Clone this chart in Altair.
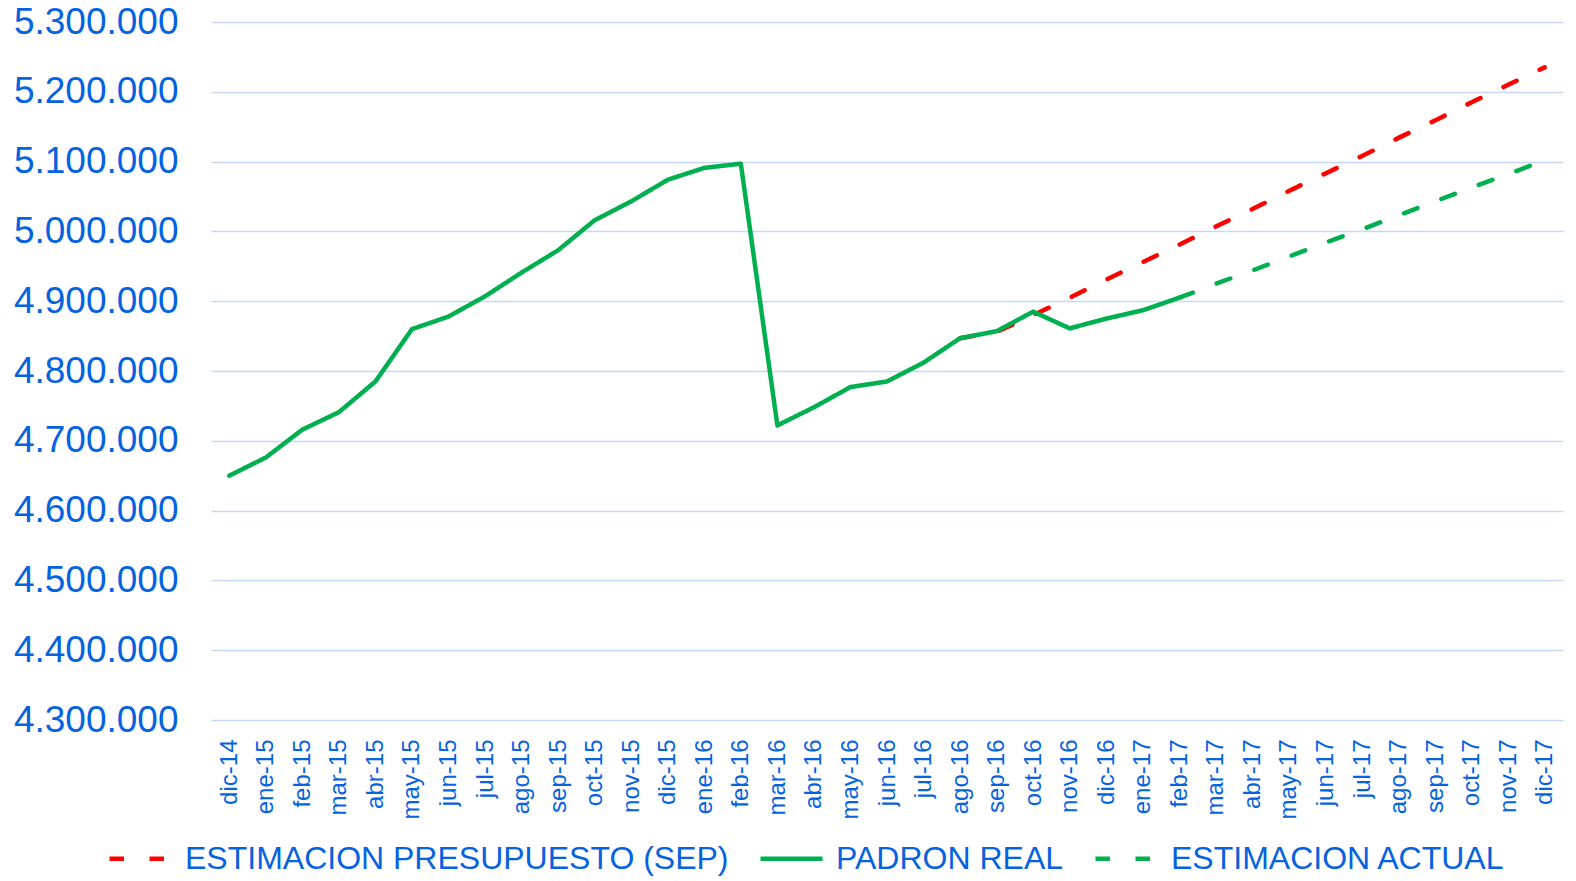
import altair as alt
import pandas as pd

months = ["dic-14", "ene-15", "feb-15", "mar-15", "abr-15", "may-15", "jun-15",
          "jul-15", "ago-15", "sep-15", "oct-15", "nov-15", "dic-15", "ene-16",
          "feb-16", "mar-16", "abr-16", "may-16", "jun-16", "jul-16", "ago-16",
          "sep-16", "oct-16", "nov-16", "dic-16", "ene-17", "feb-17", "mar-17",
          "abr-17", "may-17", "jun-17", "jul-17", "ago-17", "sep-17", "oct-17",
          "nov-17", "dic-17"]

# PADRON REAL: dic-14 .. feb-17
real_values = [4650000, 4676000, 4716000, 4741000, 4785000, 4860000, 4878000,
               4907000, 4941000, 4973000, 5016000, 5043000, 5074000, 5091000,
               5097000, 4722000, 4748000, 4777000, 4785000, 4812000, 4847000,
               4857000, 4885000, 4861000, 4875000, 4887000, 4905000]

# ESTIMACION PRESUPUESTO (SEP): ago-16 .. dic-17
sep_start = 20
sep_values = [4847000, 4856000, 4880000, 4905000, 4931000, 4956000, 4981000,
              5007000, 5032000, 5058000, 5083000, 5108000, 5134000, 5159000,
              5185000, 5210000, 5235000]

# ESTIMACION ACTUAL: feb-17 .. dic-17
act_start = 26
act_values = [4905000, 4925000, 4944000, 4964000, 4984000, 5003000, 5023000,
              5043000, 5063000, 5082000, 5102000]

y_ticks = [4300000, 4400000, 4500000, 4600000, 4700000, 4800000, 4900000,
           5000000, 5100000, 5200000, 5300000]

series_order = ["ESTIMACION PRESUPUESTO (SEP)", "PADRON REAL", "ESTIMACION ACTUAL"]
series_colors = ["#FF0000", "#00B050", "#00B050"]
series_dash = [[14.5, 25.5], [1, 0], [14.5, 25.5]]

rows = []
for m, v in zip(months, real_values):
    rows.append({"mes": m, "valor": v, "serie": "PADRON REAL"})
for m, v in zip(months[sep_start:], sep_values):
    rows.append({"mes": m, "valor": v, "serie": "ESTIMACION PRESUPUESTO (SEP)"})
for m, v in zip(months[act_start:], act_values):
    rows.append({"mes": m, "valor": v, "serie": "ESTIMACION ACTUAL"})
df = pd.DataFrame(rows)

BLUE = "#0563E0"
FONT = "Liberation Sans"

legend = alt.Legend(
    title=None, orient="none", legendX=-104, legendY=803, direction="horizontal",
    symbolType="stroke", symbolSize=3844, symbolStrokeWidth=4.5,
    labelFont=FONT, labelFontSize=32, labelColor=BLUE, labelLimit=0,
    labelOffset=11, columnPadding=22, padding=0,
)

x_enc = alt.X("mes:N", sort=months,
              scale=alt.Scale(domain=months, type="point", padding=0.5),
              axis=alt.Axis(title=None, labelAngle=270, labelAlign="right",
                            labelBaseline="middle", labelPadding=19,
                            ticks=False, tickSize=0, domain=False, grid=False,
                            labelFont=FONT, labelFontSize=24, labelColor=BLUE))
y_enc = alt.Y("valor:Q",
              scale=alt.Scale(domain=[4300000, 5300000], nice=False, zero=False),
              axis=alt.Axis(title=None, values=y_ticks, ticks=False, tickSize=0,
                            domain=False, grid=True, gridColor="#C5D8F5",
                            gridWidth=1.5, labelPadding=33,
                            labelExpr="replace(replace(format(datum.value, ',d'), ',', '.'), ',', '.')",
                            labelFont=FONT, labelFontSize=37, labelColor=BLUE))
color_enc = alt.Color("serie:N", scale=alt.Scale(domain=series_order, range=series_colors),
                      legend=legend)
dash_enc = alt.StrokeDash("serie:N", scale=alt.Scale(domain=series_order, range=series_dash),
                          legend=legend)

base = alt.Chart(df).mark_line(strokeWidth=4.5, strokeCap="round", strokeJoin="round").encode(
    x=x_enc, y=y_enc, color=color_enc, strokeDash=dash_enc)

layer_sep = base.transform_filter(alt.datum.serie == "ESTIMACION PRESUPUESTO (SEP)")
layer_act = base.transform_filter(alt.datum.serie == "ESTIMACION ACTUAL")
layer_real = base.transform_filter(alt.datum.serie == "PADRON REAL")

chart = alt.layer(layer_sep, layer_act, layer_real).properties(
    width=1352, height=698,
    autosize=alt.AutoSizeParams(type="none"),
    padding={"left": 203, "top": 14, "right": 5, "bottom": 156},
).configure(background="white").configure_view(stroke=None)

chart.save("out.html", embed_options={"renderer": "svg", "actions": False})
